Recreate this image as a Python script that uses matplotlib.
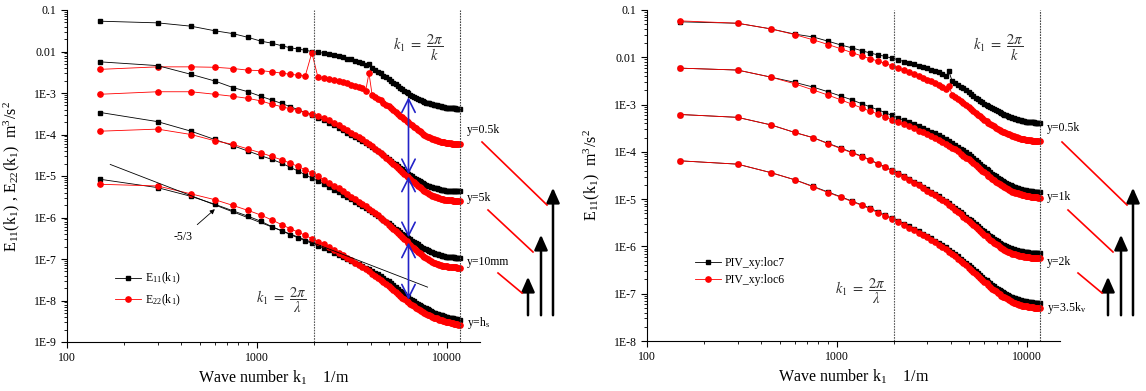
import numpy as np
import matplotlib
matplotlib.use('Agg')
import matplotlib.pyplot as plt
from matplotlib.ticker import LogLocator, FuncFormatter, NullFormatter
from matplotlib.lines import Line2D

plt.rcParams['font.family'] = ['Liberation Serif', 'DejaVu Serif']
plt.rcParams['mathtext.fontset'] = 'stix'

# wave numbers k1 (1/m), samples every 150 1/m
k1 = np.arange(1, 79) * 150

# ---- left panel: log10 of E11 / E22 (m^3/s^2) ----
e11_05k = [-1.27,-1.31,-1.39,-1.50,-1.57,-1.66,-1.75,-1.80,-1.86,-1.91,-1.94,-1.97,-2.00,
           -2.02,-2.04,-2.07,-2.09,-2.12,-2.14,-2.17,-2.19,-2.22,-2.25,-2.28,-2.32,-2.30,
           -2.40,-2.45,-2.49,-2.53,-2.58,-2.62,-2.66,-2.71,-2.75,-2.79,-2.83,-2.87,-2.91,
           -2.95,-2.98,-3.01,-3.04,-3.07,-3.10,-3.12,-3.14,-3.16,-3.18,-3.20,-3.21,-3.23,
           -3.24,-3.25,-3.26,-3.27,-3.28,-3.29,-3.30,-3.31,-3.32,-3.32,-3.33,-3.34,-3.34,
           -3.35,-3.35,-3.36,-3.36,-3.36,-3.37,-3.37,-3.37,-3.37,-3.38,-3.38,-3.38,-3.38]
e22_05k = [-2.43,-2.37,-2.37,-2.38,-2.41,-2.45,-2.46,-2.49,-2.52,-2.55,-2.57,-2.59,-2.03,
           -2.62,-2.64,-2.66,-2.69,-2.71,-2.74,-2.77,-2.80,-2.83,-2.86,-2.89,-2.94,-2.52,
           -3.04,-3.09,-3.14,-3.18,-3.23,-3.28,-3.32,-3.37,-3.41,-3.46,-3.50,-3.55,-3.59,
           -3.63,-3.67,-3.71,-3.75,-3.78,-3.82,-3.85,-3.89,-3.92,-3.95,-3.98,-4.00,-4.03,
           -4.05,-4.07,-4.09,-4.10,-4.12,-4.13,-4.14,-4.15,-4.16,-4.17,-4.18,-4.19,-4.19,
           -4.20,-4.20,-4.21,-4.21,-4.21,-4.22,-4.22,-4.22,-4.22,-4.23,-4.23,-4.23,-4.23]
e11_5k = [-2.25,-2.34,-2.55,-2.71,-2.87,-2.97,-3.08,-3.17,-3.25,-3.33,-3.40,-3.47,-3.53,
          -3.60,-3.66,-3.72,-3.78,-3.84,-3.90,-3.96,-4.01,-4.06,-4.11,-4.16,-4.21,-4.25,
          -4.30,-4.35,-4.40,-4.45,-4.50,-4.55,-4.59,-4.64,-4.68,-4.72,-4.76,-4.80,-4.84,
          -4.88,-4.91,-4.94,-4.98,-5.01,-5.04,-5.07,-5.10,-5.12,-5.15,-5.17,-5.19,-5.21,
          -5.23,-5.24,-5.26,-5.27,-5.28,-5.29,-5.30,-5.31,-5.32,-5.33,-5.33,-5.34,-5.34,
          -5.35,-5.35,-5.35,-5.36,-5.36,-5.36,-5.36,-5.37,-5.37,-5.37,-5.37,-5.37,-5.37]
e22_5k = [-3.03,-2.97,-2.97,-3.03,-3.08,-3.13,-3.19,-3.27,-3.33,-3.38,-3.42,-3.47,-3.51,
          -3.56,-3.61,-3.66,-3.72,-3.78,-3.84,-3.90,-3.96,-4.02,-4.07,-4.12,-4.18,-4.23,
          -4.28,-4.34,-4.39,-4.45,-4.50,-4.56,-4.61,-4.66,-4.71,-4.76,-4.81,-4.86,-4.90,
          -4.95,-4.99,-5.03,-5.07,-5.11,-5.15,-5.19,-5.23,-5.26,-5.30,-5.33,-5.36,-5.39,
          -5.41,-5.43,-5.45,-5.47,-5.49,-5.50,-5.51,-5.53,-5.54,-5.55,-5.56,-5.56,-5.57,
          -5.57,-5.58,-5.58,-5.59,-5.59,-5.59,-5.60,-5.60,-5.60,-5.60,-5.60,-5.60,-5.60]
e11_10mm = [-3.47,-3.69,-3.92,-4.12,-4.27,-4.40,-4.51,-4.60,-4.69,-4.79,-4.88,-4.97,-5.05,
            -5.12,-5.19,-5.26,-5.33,-5.39,-5.45,-5.51,-5.56,-5.62,-5.67,-5.72,-5.77,-5.82,
            -5.86,-5.91,-5.96,-6.00,-6.05,-6.10,-6.14,-6.19,-6.23,-6.27,-6.31,-6.35,-6.39,
            -6.43,-6.46,-6.50,-6.53,-6.56,-6.59,-6.62,-6.65,-6.68,-6.70,-6.73,-6.75,-6.77,
            -6.79,-6.81,-6.83,-6.84,-6.86,-6.87,-6.88,-6.89,-6.90,-6.91,-6.92,-6.93,-6.93,
            -6.94,-6.94,-6.95,-6.95,-6.96,-6.96,-6.96,-6.96,-6.97,-6.97,-6.97,-6.97,-6.97]
e22_10mm = [-3.92,-3.87,-4.00,-4.15,-4.24,-4.35,-4.44,-4.53,-4.61,-4.69,-4.77,-4.85,-4.93,
            -5.01,-5.09,-5.16,-5.23,-5.30,-5.37,-5.44,-5.50,-5.56,-5.62,-5.68,-5.73,-5.79,
            -5.84,-5.90,-5.95,-6.01,-6.06,-6.12,-6.17,-6.23,-6.28,-6.33,-6.38,-6.43,-6.48,
            -6.53,-6.57,-6.62,-6.66,-6.70,-6.74,-6.78,-6.82,-6.86,-6.89,-6.92,-6.95,-6.98,
            -7.01,-7.03,-7.05,-7.07,-7.09,-7.10,-7.12,-7.13,-7.14,-7.15,-7.16,-7.17,-7.17,
            -7.18,-7.18,-7.19,-7.19,-7.19,-7.20,-7.20,-7.20,-7.20,-7.20,-7.21,-7.21,-7.21]
e11_hs = [-5.08,-5.28,-5.49,-5.68,-5.84,-5.97,-6.09,-6.22,-6.32,-6.41,-6.49,-6.56,-6.62,
          -6.68,-6.74,-6.79,-6.85,-6.90,-6.95,-7.00,-7.05,-7.09,-7.13,-7.17,-7.21,-7.25,
          -7.29,-7.33,-7.37,-7.41,-7.45,-7.50,-7.54,-7.59,-7.63,-7.68,-7.72,-7.76,-7.80,
          -7.84,-7.88,-7.92,-7.96,-7.99,-8.02,-8.05,-8.08,-8.11,-8.13,-8.15,-8.17,-8.19,
          -8.21,-8.23,-8.25,-8.27,-8.29,-8.30,-8.32,-8.33,-8.34,-8.35,-8.36,-8.37,-8.38,
          -8.39,-8.40,-8.41,-8.42,-8.42,-8.43,-8.43,-8.44,-8.44,-8.45,-8.45,-8.46,-8.46]
e22_hs = [-5.20,-5.24,-5.43,-5.57,-5.71,-5.83,-5.94,-6.06,-6.17,-6.27,-6.35,-6.43,-6.51,
          -6.58,-6.65,-6.72,-6.79,-6.85,-6.91,-6.97,-7.03,-7.09,-7.14,-7.20,-7.25,-7.30,
          -7.35,-7.40,-7.45,-7.50,-7.55,-7.60,-7.65,-7.70,-7.75,-7.79,-7.84,-7.88,-7.93,
          -7.97,-8.01,-8.04,-8.08,-8.11,-8.14,-8.17,-8.20,-8.23,-8.25,-8.28,-8.30,-8.32,
          -8.34,-8.36,-8.38,-8.39,-8.41,-8.42,-8.43,-8.45,-8.46,-8.47,-8.48,-8.49,-8.50,
          -8.51,-8.52,-8.53,-8.53,-8.54,-8.55,-8.55,-8.56,-8.56,-8.57,-8.57,-8.58,-8.58]

# ---- right panel: log10 of E11 for PIV_xy:loc7 / loc6 ----
loc7_05k = [-1.25,-1.28,-1.40,-1.51,-1.57,-1.66,-1.74,-1.80,-1.86,-1.91,-1.95,-1.98,-2.02,
            -2.05,-2.09,-2.12,-2.15,-2.18,-2.20,-2.23,-2.26,-2.29,-2.32,-2.36,-2.40,-2.30,
            -2.50,-2.54,-2.58,-2.62,-2.66,-2.70,-2.74,-2.78,-2.82,-2.86,-2.89,-2.92,-2.95,
            -2.98,-3.01,-3.03,-3.06,-3.08,-3.10,-3.12,-3.14,-3.16,-3.18,-3.20,-3.21,-3.23,
            -3.24,-3.26,-3.27,-3.28,-3.29,-3.30,-3.31,-3.32,-3.33,-3.33,-3.34,-3.35,-3.35,
            -3.36,-3.36,-3.36,-3.37,-3.37,-3.37,-3.37,-3.37,-3.38,-3.38,-3.38,-3.38,-3.38]
loc6_05k = [-1.23,-1.28,-1.40,-1.52,-1.63,-1.73,-1.82,-1.90,-1.97,-2.03,-2.08,-2.13,-2.18,
            -2.23,-2.27,-2.31,-2.35,-2.39,-2.43,-2.47,-2.51,-2.55,-2.59,-2.63,-2.67,-2.60,
            -2.79,-2.84,-2.88,-2.92,-2.97,-3.01,-3.05,-3.10,-3.14,-3.18,-3.21,-3.25,-3.29,
            -3.32,-3.35,-3.38,-3.41,-3.44,-3.46,-3.49,-3.51,-3.53,-3.55,-3.57,-3.59,-3.60,
            -3.62,-3.63,-3.65,-3.66,-3.67,-3.68,-3.69,-3.70,-3.71,-3.72,-3.72,-3.73,-3.73,
            -3.74,-3.74,-3.75,-3.75,-3.75,-3.76,-3.76,-3.76,-3.76,-3.77,-3.77,-3.77,-3.77]
loc7_1k = [-2.23,-2.27,-2.42,-2.53,-2.63,-2.73,-2.82,-2.90,-2.98,-3.05,-3.11,-3.17,-3.23,
           -3.28,-3.33,-3.37,-3.41,-3.45,-3.49,-3.53,-3.57,-3.61,-3.65,-3.69,-3.73,-3.77,
           -3.81,-3.85,-3.89,-3.93,-3.97,-4.01,-4.05,-4.09,-4.13,-4.17,-4.21,-4.25,-4.29,
           -4.32,-4.36,-4.39,-4.43,-4.46,-4.49,-4.52,-4.55,-4.57,-4.60,-4.62,-4.64,-4.66,
           -4.68,-4.70,-4.71,-4.73,-4.74,-4.75,-4.76,-4.77,-4.78,-4.79,-4.80,-4.80,-4.81,
           -4.81,-4.82,-4.82,-4.83,-4.83,-4.83,-4.84,-4.84,-4.84,-4.84,-4.84,-4.85,-4.85]
loc6_1k = [-2.23,-2.27,-2.42,-2.56,-2.69,-2.80,-2.90,-2.99,-3.07,-3.14,-3.20,-3.26,-3.32,
           -3.37,-3.42,-3.46,-3.50,-3.55,-3.59,-3.63,-3.67,-3.71,-3.75,-3.79,-3.83,-3.87,
           -3.91,-3.95,-3.99,-4.04,-4.08,-4.12,-4.16,-4.20,-4.24,-4.28,-4.32,-4.36,-4.40,
           -4.43,-4.47,-4.50,-4.54,-4.57,-4.60,-4.63,-4.66,-4.68,-4.71,-4.73,-4.75,-4.77,
           -4.79,-4.81,-4.82,-4.84,-4.85,-4.86,-4.87,-4.88,-4.89,-4.90,-4.91,-4.92,-4.92,
           -4.93,-4.93,-4.94,-4.94,-4.95,-4.95,-4.95,-4.96,-4.96,-4.96,-4.96,-4.97,-4.97]
loc7_2k = [-3.21,-3.27,-3.43,-3.59,-3.70,-3.82,-3.92,-4.01,-4.09,-4.17,-4.25,-4.32,-4.39,
           -4.45,-4.51,-4.57,-4.63,-4.68,-4.74,-4.79,-4.84,-4.89,-4.94,-4.99,-5.04,-5.09,
           -5.14,-5.18,-5.23,-5.28,-5.32,-5.37,-5.41,-5.45,-5.49,-5.53,-5.57,-5.61,-5.65,
           -5.68,-5.72,-5.75,-5.78,-5.81,-5.84,-5.87,-5.89,-5.92,-5.94,-5.96,-5.98,-6.00,
           -6.01,-6.03,-6.04,-6.05,-6.06,-6.07,-6.08,-6.09,-6.09,-6.10,-6.10,-6.11,-6.11,
           -6.12,-6.12,-6.12,-6.13,-6.13,-6.13,-6.13,-6.14,-6.14,-6.14,-6.14,-6.14,-6.14]
loc6_2k = [-3.21,-3.27,-3.43,-3.59,-3.70,-3.83,-3.93,-4.02,-4.10,-4.18,-4.26,-4.33,-4.40,
           -4.47,-4.53,-4.59,-4.65,-4.71,-4.77,-4.82,-4.87,-4.92,-4.97,-5.02,-5.07,-5.12,
           -5.17,-5.22,-5.27,-5.32,-5.37,-5.42,-5.46,-5.51,-5.55,-5.59,-5.63,-5.67,-5.71,
           -5.75,-5.79,-5.82,-5.86,-5.89,-5.92,-5.95,-5.98,-6.01,-6.03,-6.05,-6.07,-6.09,
           -6.11,-6.12,-6.14,-6.15,-6.16,-6.17,-6.18,-6.19,-6.20,-6.20,-6.21,-6.21,-6.22,
           -6.22,-6.23,-6.23,-6.23,-6.24,-6.24,-6.24,-6.24,-6.25,-6.25,-6.25,-6.25,-6.25]
loc7_35k = [-4.19,-4.26,-4.44,-4.59,-4.73,-4.85,-4.95,-5.04,-5.12,-5.19,-5.27,-5.34,-5.40,
            -5.46,-5.52,-5.57,-5.63,-5.68,-5.73,-5.78,-5.83,-5.88,-5.93,-5.97,-6.02,-6.07,
            -6.12,-6.16,-6.21,-6.26,-6.30,-6.35,-6.39,-6.44,-6.48,-6.52,-6.56,-6.60,-6.64,
            -6.68,-6.71,-6.75,-6.78,-6.81,-6.84,-6.87,-6.90,-6.92,-6.95,-6.97,-6.99,-7.01,
            -7.03,-7.05,-7.06,-7.08,-7.09,-7.10,-7.11,-7.12,-7.13,-7.14,-7.15,-7.15,-7.16,
            -7.16,-7.17,-7.17,-7.18,-7.18,-7.18,-7.19,-7.19,-7.19,-7.19,-7.20,-7.20,-7.20]
loc6_35k = [-4.19,-4.26,-4.44,-4.59,-4.74,-4.86,-4.96,-5.05,-5.13,-5.21,-5.29,-5.36,-5.42,
            -5.48,-5.54,-5.60,-5.66,-5.71,-5.76,-5.81,-5.86,-5.91,-5.96,-6.01,-6.06,-6.11,
            -6.16,-6.21,-6.26,-6.31,-6.35,-6.40,-6.45,-6.49,-6.54,-6.58,-6.62,-6.67,-6.71,
            -6.75,-6.78,-6.82,-6.86,-6.89,-6.92,-6.95,-6.98,-7.01,-7.04,-7.06,-7.08,-7.10,
            -7.12,-7.14,-7.16,-7.17,-7.19,-7.20,-7.21,-7.22,-7.23,-7.24,-7.25,-7.26,-7.26,
            -7.27,-7.27,-7.28,-7.28,-7.29,-7.29,-7.29,-7.30,-7.30,-7.30,-7.30,-7.31,-7.31]

# reference lines / markers
k_lambda = 2000      # k1 = 2pi/lambda
k_end = 11700        # k1 = 2pi/k
slope_k = [169, 7940]          # -5/3 guide line
slope_e = [1.9e-5, 2.1e-8]
arrow_k = 6300                 # blue double arrows
arrow_spans = [(-4.96, -3.10), (-6.48, -5.01), (-7.98, -6.60)]

left_labels = ['y=0.5k', 'y=5k', 'y=10mm', 'y=h$_\\mathregular{s}$']
right_labels = ['y=0.5k', 'y=1k', 'y=2k', 'y=3.5k$_\\mathregular{v}$']

W, H = 1146, 391
fig = plt.figure(figsize=(W / 100, H / 100), dpi=100)
ax1 = fig.add_axes([67 / W, 1 - 342 / H, 413 / W, 332 / H])
ax2 = fig.add_axes([647 / W, 1 - 341 / H, 413 / W, 331 / H])

blk = dict(color='black', marker='s', ms=3.3, lw=0.6)
red = dict(color='#ff0000', marker='o', ms=3.8, lw=0.6)

for e11, e22 in [(e11_05k, e22_05k), (e11_5k, e22_5k), (e11_10mm, e22_10mm), (e11_hs, e22_hs)]:
    ax1.plot(k1, 10 ** np.array(e11), **blk)
    ax1.plot(k1, 10 ** np.array(e22), **red)

for a, b in [(loc7_05k, loc6_05k), (loc7_1k, loc6_1k), (loc7_2k, loc6_2k), (loc7_35k, loc6_35k)]:
    ax2.plot(k1, 10 ** np.array(a), **blk)
    ax2.plot(k1, 10 ** np.array(b), **red)


def ytick(v, pos):
    e = int(round(np.log10(v)))
    if e == -1:
        return '0.1'
    if e == -2:
        return '0.01'
    return '1E%d' % e


for ax, ylo in [(ax1, 1e-9), (ax2, 1e-8)]:
    ax.set_xscale('log')
    ax.set_yscale('log')
    ax.set_xlim(100, 15000)
    ax.set_ylim(ylo, 0.1)
    ax.spines['top'].set_visible(False)
    ax.spines['right'].set_visible(False)
    ax.axvline(k_lambda, color='0.35', lw=0.8, ls=(0, (1.5, 1)))
    ax.axvline(k_end, color='0.25', lw=0.8, ls=(0, (1.5, 1)))
    ax.yaxis.set_major_locator(LogLocator(base=10, numticks=20))
    ax.yaxis.set_minor_locator(LogLocator(base=10, subs=np.arange(2, 10), numticks=20))
    ax.yaxis.set_major_formatter(FuncFormatter(ytick))
    ax.yaxis.set_minor_formatter(NullFormatter())
    ax.xaxis.set_major_formatter(FuncFormatter(lambda v, p: '%d' % v))
    ax.tick_params(which='major', direction='out', length=4, width=0.8, labelsize=8.5)
    ax.tick_params(which='minor', direction='out', length=2, width=0.6)
    ax.set_xlabel('Wave number k$_\\mathregular{1}$    1/m', fontsize=11.5, labelpad=3)
    ax.text(0.85, 0.885, r'$k_1\ =\ \dfrac{2\pi}{k}$', transform=ax.transAxes,
            fontsize=10.5, ha='center', va='center', color='0.2')

ax1.set_ylabel('E$_\\mathregular{11}$(k$_\\mathregular{1}$) , E$_\\mathregular{22}$(k$_\\mathregular{1}$)  m$^\\mathregular{3}$/s$^\\mathregular{2}$',
               fontsize=11.5)
ax1.yaxis.set_label_coords(-0.108, 0.5)
ax2.set_ylabel('E$_\\mathregular{11}$(k$_\\mathregular{1}$)  m$^\\mathregular{3}$/s$^\\mathregular{2}$', fontsize=11.5)
ax2.yaxis.set_label_coords(-0.11, 0.5)

ax1.text(0.52, 0.127, r'$k_1\ =\ \dfrac{2\pi}{\lambda}$', transform=ax1.transAxes,
         fontsize=10.5, ha='center', va='center', color='0.2')
ax2.text(0.516, 0.15, r'$k_1\ =\ \dfrac{2\pi}{\lambda}$', transform=ax2.transAxes,
         fontsize=10.5, ha='center', va='center', color='0.2')

# -5/3 guide
ax1.plot(slope_k, slope_e, color='k', lw=0.6)
ax1.annotate('-5/3', xy=(0.358, 0.40), xytext=(0.281, 0.316), xycoords='axes fraction',
             textcoords='axes fraction', fontsize=8.5, ha='center', va='center',
             arrowprops=dict(arrowstyle='-|>', color='k', lw=0.6, mutation_scale=7,
                             shrinkA=4, shrinkB=0))

# blue double arrows
for lo, hi in arrow_spans:
    ax1.annotate('', xy=(arrow_k, 10 ** hi), xytext=(arrow_k, 10 ** lo),
                 arrowprops=dict(arrowstyle='<->,head_length=0.8,head_width=0.4',
                                 color='#2323c8', lw=1.2, mutation_scale=12,
                                 shrinkA=0, shrinkB=0))

# legends
hb = Line2D([], [], **blk)
hr = Line2D([], [], **red)
ax1.legend([hb, hr], ['E$_\\mathregular{11}$(k$_\\mathregular{1}$)', 'E$_\\mathregular{22}$(k$_\\mathregular{1}$)'],
           loc='upper left', bbox_to_anchor=(0.1, 0.235), frameon=False, fontsize=8.5,
           handlelength=2.2, handletextpad=0.3, labelspacing=0.5, borderpad=0.1)
ax2.legend([hb, hr], ['PIV_xy:loc7', 'PIV_xy:loc6'],
           loc='upper left', bbox_to_anchor=(0.1, 0.275), frameon=False, fontsize=8.5,
           handlelength=2.2, handletextpad=0.3, labelspacing=0.4, borderpad=0.1)

# side labels
for ax, labels, ys in [(ax1, left_labels, [0.639, 0.434, 0.241, 0.057]),
                       (ax2, right_labels, [0.644, 0.435, 0.239, 0.10])]:
    for lab, yy in zip(labels, ys):
        ax.text(0.968, yy, lab, transform=ax.transAxes, fontsize=8.5, va='center',
                ha='left', clip_on=False)

# red slanted strokes and black upward arrows beside each panel
for dx in [0, 580]:
    for (x1, y1, x2, y2) in [(482, 142, 547, 205), (488, 210, 533, 252), (498, 273, 522, 293)]:
        fig.add_artist(Line2D([(x1 + dx) / W, (x2 + dx) / W], [1 - y1 / H, 1 - y2 / H],
                              color='#ff0000', lw=1.2, transform=fig.transFigure))
    for (x, tip) in [(528, 274), (541, 232), (553, 185)]:
        fig.add_artist(matplotlib.patches.FancyArrowPatch(
            ((x + dx) / W, 1 - 318 / H), ((x + dx) / W, 1 - tip / H),
            arrowstyle='-|>,head_length=0.9,head_width=0.4', mutation_scale=10,
            color='black', lw=1.8, transform=fig.transFigure))

fig.savefig('out.png', dpi=100)
